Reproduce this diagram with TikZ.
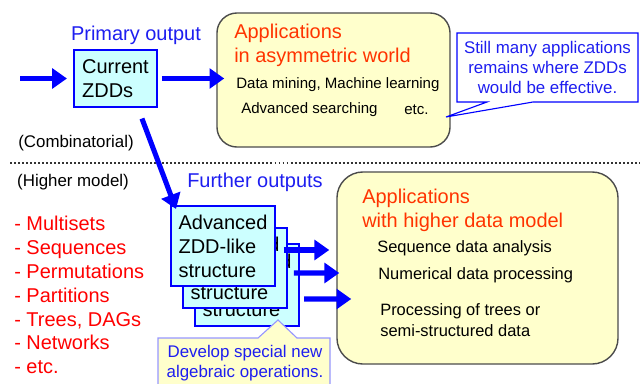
\documentclass[tikz,border=0pt]{standalone}
\usepackage{fontspec}
\setmainfont{Liberation Sans}
\usepackage{tikz}
\usepackage{xcolor}
\usetikzlibrary{arrows.meta}

\definecolor{zblue}{RGB}{0,0,255}
\definecolor{txtblue}{RGB}{30,30,240}
\definecolor{zcyan}{RGB}{204,255,255}
\definecolor{appyellow}{RGB}{255,255,204}
\definecolor{hired}{RGB}{255,51,0}
\definecolor{listred}{RGB}{255,0,0}
\definecolor{notelilac}{RGB}{150,150,255}

\newcommand{\bigfont}{\fontsize{14.2pt}{17pt}\selectfont}
\newcommand{\medfont}{\fontsize{12pt}{14.2pt}\selectfont}
\newcommand{\itemfont}{\fontsize{11.7pt}{14.6pt}\selectfont}
\newcommand{\smallfont}{\fontsize{10.7pt}{13pt}\selectfont}

\begin{document}
\begin{tikzpicture}[x=0.025cm,y=-0.025cm]
\tikzstyle{lbl}=[inner sep=0pt,align=left]
\tikzstyle{zddbox}=[rectangle,draw=zblue,fill=zcyan,line width=1.4pt,align=left,font=\bigfont,inner sep=0pt]
\tikzstyle{appbox}=[rectangle,draw=black!70,fill=appyellow,line width=1pt]
\tikzstyle{bigarrow}=[-{Triangle[length=10.5pt,width=14pt]},line width=3.6pt,draw=zblue]

\useasboundingbox (0,0) rectangle (640,383);

% upper half
\node[lbl,font=\bigfont,text=txtblue](PrimLbl) at (136,35){Primary output};
\node[zddbox,minimum width=2.075cm,minimum height=1.425cm](CurZDD) at (115.5,78.5){Current\\ZDDs};
\coordinate (InStart) at (20,78.5);

\node[appbox,rounded corners=0.5cm,minimum width=5.825cm,minimum height=3.35cm](AsymBox) at (333.5,80){};
\node[lbl,anchor=west,font=\bigfont,text=hired](AsymTitle) at (234,45){Applications\\in asymmetric world};
\node[lbl,anchor=west,font=\smallfont](AsymItemA) at (236,85){Data mining, Machine learning};
\node[lbl,anchor=west,font=\smallfont](AsymItemB) at (241,110){Advanced searching};
\node[lbl,anchor=west,font=\smallfont](AsymEtc) at (404,110){etc.};

\draw[zblue,fill=white,line width=0.8pt] (457,33) -- (638,33) -- (638,102) -- (533,102) -- (446,117) -- (487,102) -- (457,102) -- cycle;
\node[lbl,align=center,font=\medfont,text=txtblue](NoteA) at (547.5,67){Still many applications\\remains where ZDDs\\would be effective.};

\node[lbl,font=\medfont](CombLbl) at (76,143){(Combinatorial)};

\draw[black!80,line width=1.4pt,dash pattern=on 1.4pt off 1.45pt] (10,163) -- (640,163);

% lower half
\node[lbl,font=\medfont](HighLbl) at (73,182){(Higher model)};
\node[lbl,font=\bigfont,text=txtblue](FurtherLbl) at (255,182){Further outputs};
\node[lbl,anchor=west,font=\bigfont,text=listred](ModelList) at (14,295){- Multisets\\- Sequences\\- Permutations\\- Partitions\\- Trees, DAGs\\- Networks\\- etc.};

\node[zddbox,minimum width=2.6cm,minimum height=2.05cm](AdvZDDc) at (247,285){Advanced\\ZDD-like\\structure};
\node[zddbox,minimum width=2.6cm,minimum height=2.02cm](AdvZDDb) at (235,268){Advanced\\ZDD-like\\structure};
\node[zddbox,minimum width=2.6cm,minimum height=2cm](AdvZDD) at (223,246){Advanced\\ZDD-like\\structure};

\node[appbox,rounded corners=0.65cm,minimum width=7.025cm,minimum height=4.8cm](HighBox) at (477.5,268){};
\node[lbl,anchor=west,font=\bigfont,text=hired](HighTitle) at (362,210){Applications\\with higher data model};
\node[lbl,anchor=west,font=\itemfont](HighItemA) at (377,248){Sequence data analysis};
\node[lbl,anchor=west,font=\itemfont](HighItemB) at (378,275){Numerical data processing};
\node[lbl,anchor=west,font=\itemfont](HighItemC) at (380,320){Processing of trees or\\semi-structured data};

\draw[notelilac,fill=appyellow,line width=0.8pt] (158,338) -- (258,338) -- (278,320) -- (297,338) -- (330,338) -- (330,395) -- (158,395) -- cycle;
\node[lbl,align=center,font=\medfont,text=txtblue](NoteB) at (245,363){Develop special new\\algebraic operations.};

% connectors
\draw[bigarrow,shorten >=4.3pt] (InStart) -- (CurZDD.west);
\draw[bigarrow,shorten <=2.8pt,shorten >=-5.7pt] (CurZDD.east) -- (CurZDD.east -| AsymBox.west);
\draw[bigarrow,shorten <=8pt] ([xshift=-0.5cm]CurZDD.south east) -- ([xshift=0.15cm,yshift=-0.1cm]AdvZDD.north west);
\draw[bigarrow] ([xshift=-0.1cm,yshift=0.45cm]AdvZDDb.east) -- ([xshift=-0.175cm,yshift=0.45cm]HighBox.west);
\draw[bigarrow] ([xshift=-0.15cm,yshift=0.3cm]AdvZDDc.east) -- ([xshift=0.075cm,yshift=-0.125cm]HighBox.west);
\draw[bigarrow] ([xshift=0.1cm,yshift=-0.35cm]AdvZDDc.east) -- ([xshift=0.375cm,yshift=-0.775cm]HighBox.west);

\end{tikzpicture}
\end{document}
